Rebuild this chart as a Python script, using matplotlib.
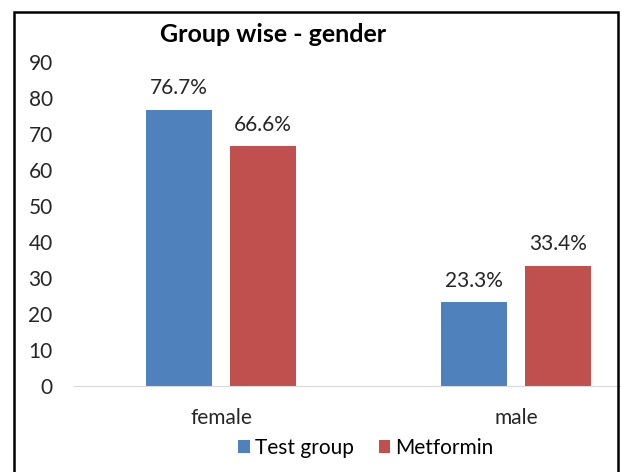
import matplotlib.pyplot as plt
from matplotlib.patches import Rectangle
import numpy as np

# data
categories = ["female", "male"]
test_group = [76.7, 23.3]
metformin = [66.6, 33.4]
test_labels = ["76.7%", "23.3%"]
metformin_labels = ["66.6%", "33.4%"]
y_ticks = [0, 10, 20, 30, 40, 50, 60, 70, 80, 90]

BLUE = "#4F81BD"
RED = "#C0504D"

plt.rcParams['font.family'] = ['Lato', 'DejaVu Sans']

fig = plt.figure(figsize=(6.21, 4.72), dpi=100)
# axes wider than the figure: the original chart is cropped on the right
ax = fig.add_axes([73.5 / 621, 86 / 472, 590 / 621, 324 / 472])

x = np.arange(len(categories))
w = 0.224
off = 0.142
b1 = ax.bar(x - off, test_group, w, color=BLUE, label="Test group")
b2 = ax.bar(x + off, metformin, w, color=RED, label="Metformin")

for bars, labs in ((b1, test_labels), (b2, metformin_labels)):
    for bar, lab in zip(bars, labs):
        ax.text(bar.get_x() + bar.get_width() / 2, bar.get_height() + 3.2, lab,
                ha='center', va='bottom', fontsize=15, color='#262626')

ax.set_xlim(-0.5, 1.5)
ax.set_ylim(0, 90)
ax.set_yticks(y_ticks)
ax.set_xticks(x)
ax.set_xticklabels(categories)
ax.tick_params(axis='both', length=0, labelsize=15, colors='#262626')
ax.tick_params(axis='y', pad=15)
ax.tick_params(axis='x', pad=16)
for s in ('left', 'right', 'top'):
    ax.spines[s].set_visible(False)
ax.spines['bottom'].set_color('#D9D9D9')

fig.text(273 / 621, 1 - 35 / 472, "Group wise - gender", ha='center', va='center',
         fontsize=18, fontweight='bold', color='black')

fig.legend(handles=[b1, b2], loc='center', bbox_to_anchor=(366 / 621, 24 / 472),
           ncol=2, frameon=False, fontsize=15, handlelength=0.55, handleheight=0.55,
           handletextpad=0.25, columnspacing=1.2)

# outer frame of the chart, open at the bottom and right like the crop
fig.patches.append(Rectangle((14 / 621, -0.05), 604 / 621, 1.05 - 12 / 472,
                             transform=fig.transFigure, fill=False,
                             edgecolor='black', linewidth=1.8))

fig.savefig("out.png", dpi=100)
